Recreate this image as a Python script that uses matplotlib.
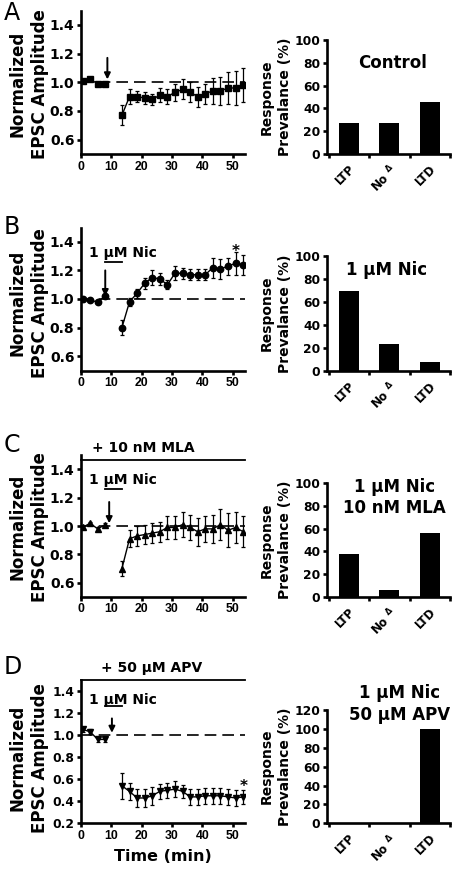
import matplotlib
matplotlib.use("Agg")
import matplotlib.pyplot as plt
import numpy as np

plt.rcParams['font.family'] = ['DejaVu Sans']
plt.rcParams['font.weight'] = 'bold'
plt.rcParams['mathtext.default'] = 'regular'

# ---------------- data ----------------
t_pre = [0.5, 3, 5.5, 8]
t_post = [13.5, 16, 18.5, 21, 23.5, 26, 28.5, 31, 33.5, 36, 38.5, 41, 43.5, 46, 48.5, 51, 53.5]

a_pre = [1.01, 1.02, 0.99, 0.99]
a_pre_err = [0.01, 0.01, 0.01, 0.01]
a_post = [0.77, 0.90, 0.90, 0.89, 0.88, 0.91, 0.90, 0.93, 0.95, 0.93, 0.90, 0.92, 0.94, 0.94, 0.96, 0.96, 0.98]
a_post_err = [0.07, 0.05, 0.04, 0.04, 0.04, 0.05, 0.05, 0.06, 0.07, 0.07, 0.07, 0.07, 0.09, 0.10, 0.11, 0.12, 0.12]

b_pre = [1.00, 0.99, 0.98, 1.02]
b_pre_err = [0.01, 0.01, 0.01, 0.01]
b_post = [0.80, 0.98, 1.04, 1.11, 1.15, 1.14, 1.10, 1.18, 1.18, 1.17, 1.17, 1.17, 1.22, 1.21, 1.23, 1.25, 1.24]
b_post_err = [0.05, 0.03, 0.03, 0.04, 0.05, 0.04, 0.03, 0.05, 0.04, 0.04, 0.04, 0.04, 0.07, 0.07, 0.06, 0.08, 0.07]

c_pre = [0.99, 1.02, 0.98, 1.01]
c_pre_err = [0.01, 0.01, 0.01, 0.01]
c_post = [0.70, 0.91, 0.93, 0.94, 0.95, 0.96, 0.99, 0.99, 1.01, 0.99, 0.96, 0.98, 0.98, 1.01, 0.97, 0.99, 0.96]
c_post_err = [0.05, 0.06, 0.07, 0.07, 0.07, 0.07, 0.08, 0.08, 0.09, 0.09, 0.10, 0.09, 0.10, 0.11, 0.12, 0.11, 0.11]

d_pre = [1.05, 1.03, 0.96, 0.96]
d_pre_err = [0.02, 0.02, 0.02, 0.02]
d_post = [0.54, 0.49, 0.43, 0.43, 0.45, 0.49, 0.50, 0.51, 0.49, 0.44, 0.44, 0.45, 0.45, 0.45, 0.44, 0.43, 0.44]
d_post_err = [0.12, 0.08, 0.08, 0.08, 0.08, 0.07, 0.07, 0.07, 0.06, 0.07, 0.07, 0.07, 0.07, 0.07, 0.07, 0.07, 0.06]

categories = ['LTP', 'No $^{\\Delta}$', 'LTD']
bar_a = [27.3, 27.3, 45.4]
bar_b = [69.2, 23.1, 7.7]
bar_c = [37.5, 6.25, 56.25]
bar_d = [0, 0, 100]

W, H = 454, 876
fig = plt.figure(figsize=(W / 100, H / 100), dpi=100)


def pos(left, top, right, bottom):
    return [left / W, (H - bottom) / H, (right - left) / W, (bottom - top) / H]


SP = 1.9


def style(ax, yfs):
    for s in ['top', 'right']:
        ax.spines[s].set_visible(False)
    for s in ['left', 'bottom']:
        ax.spines[s].set_linewidth(SP)
    ax.tick_params(direction='out', width=SP, length=3.2, pad=1.5)
    ax.tick_params(axis='y', labelsize=yfs)
    for lab in ax.get_xticklabels() + ax.get_yticklabels():
        lab.set_fontweight('bold')


def line_panel(ax, pre, pre_err, post, post_err, marker, ylim, yticks, arrow_t, arrow_from,
               label_y, yfs=10):
    ax.set_xlim(0, 54)
    ax.set_ylim(*ylim)
    ax.plot([0, 54], [1.0, 1.0], color='k', lw=1.2, dashes=(7, 3.6), zorder=1)
    ms = 4.6 if marker != 's' else 4.4
    for t, y, e in [(t_pre, pre, pre_err), (t_post, post, post_err)]:
        ax.errorbar(t, y, yerr=e, color='k', marker=marker, ms=ms, lw=1.0,
                    elinewidth=0.9, capsize=1.6, capthick=0.9, zorder=3)
    ax.set_xticks([0, 10, 20, 30, 40, 50])
    ax.set_xticklabels(['0', '10', '20', '30', '40', '50'])
    ax.set_yticks(yticks)
    ax.set_yticklabels([f'{v:.1f}' for v in yticks])
    # two-line y label drawn as two separate texts
    fig.text(18 / W, 1 - label_y / H, 'Normalized', rotation=90, fontsize=12,
             fontweight='bold', ha='center', va='center')
    fig.text(40.5 / W, 1 - label_y / H, 'EPSC Amplitude', rotation=90, fontsize=12,
             fontweight='bold', ha='center', va='center')
    ax.annotate('', xy=(arrow_t, 1.02), xytext=(arrow_t, arrow_from),
                arrowprops=dict(arrowstyle='-|>', lw=1.4, color='k', mutation_scale=9,
                                shrinkA=0, shrinkB=0))
    style(ax, yfs)
    for lab in ax.get_xticklabels():
        lab.set_family('Liberation Sans')
        lab.set_fontsize(8.8)


def nic_label(ax, ytext, yline):
    ax.text(2.8, ytext, '1 μM Nic', fontsize=10, fontweight='bold', ha='left', va='center')
    ax.plot([7.9, 13.5], [yline, yline], color='k', lw=1.3, clip_on=False)


def bar_panel(ax, vals, ylim, yticks):
    x = np.arange(len(categories))
    ax.bar(x, vals, width=0.5, color='k')
    ax.set_xlim(-0.55, 2.5)
    ax.set_ylim(*ylim)
    ax.set_yticks(yticks)
    ax.set_xticks([-0.5, 0.5, 1.5, 2.5])
    ax.set_xticklabels([])
    ax.set_xticks(x, minor=True)
    ax.set_xticklabels(categories, minor=True, rotation=45, ha='right',
                       rotation_mode='anchor', fontsize=8.5, fontweight='bold')
    ax.tick_params(axis='x', which='minor', length=0, pad=6)
    ax.set_ylabel('Response\nPrevalance (%)', fontsize=10, fontweight='bold',
                  linespacing=1.3, labelpad=2)
    style(ax, 8.8)
    for lab in ax.get_xticklabels(minor=True):
        lab.set_fontweight('bold')
        lab.set_fontsize(8.5)
    return ax


TFS = 12

# ---------------- A ----------------
axA = fig.add_axes(pos(81, 10.5, 244.7, 154))
line_panel(axA, a_pre, a_pre_err, a_post, a_post_err, 's', (0.5, 1.5),
           [0.6, 0.8, 1.0, 1.2, 1.4], 8.7, 1.17, 84)
bA = fig.add_axes(pos(326.7, 40, 450, 154))
bar_panel(bA, bar_a, (0, 100), [0, 20, 40, 60, 80, 100])
bA.text(1.09, 79.8, 'Control', fontsize=TFS, fontweight='bold', ha='center', va='center')

# ---------------- B ----------------
axB = fig.add_axes(pos(81, 227.5, 244.7, 370.5))
line_panel(axB, b_pre, b_pre_err, b_post, b_post_err, 'o', (0.5, 1.5),
           [0.6, 0.8, 1.0, 1.2, 1.4], 8.0, 1.20, 303)
nic_label(axB, 1.32, 1.26)
axB.text(t_post[15], 1.30, '*', fontsize=11, fontweight='bold', ha='center', va='baseline')
bB = fig.add_axes(pos(326.7, 256, 450, 370.7))
bar_panel(bB, bar_b, (0, 100), [0, 20, 40, 60, 80, 100])
bB.text(0.93, 87.8, '1 μM Nic', fontsize=TFS, fontweight='bold', ha='center', va='center')

# ---------------- C ----------------
axC = fig.add_axes(pos(81, 455.3, 244.7, 596.8))
line_panel(axC, c_pre, c_pre_err, c_post, c_post_err, '^', (0.5, 1.5),
           [0.6, 0.8, 1.0, 1.2, 1.4], 9.3, 1.17, 527)
nic_label(axC, 1.325, 1.26)
axC.plot([0, 54], [1.467, 1.467], color='k', lw=1.3, clip_on=False)
axC.text(3.5, 1.555, '+ 10 nM MLA', fontsize=10, fontweight='bold', ha='left', va='center')
bC = fig.add_axes(pos(326.7, 483.3, 450, 596.7))
bar_panel(bC, bar_c, (0, 100), [0, 20, 40, 60, 80, 100])
bC.text(1.12, 97, '1 μM Nic', fontsize=TFS, fontweight='bold', ha='center', va='center')
bC.text(1.12, 78, '10 nM MLA', fontsize=TFS, fontweight='bold', ha='center', va='center')

# ---------------- D ----------------
axD = fig.add_axes(pos(81, 679.75, 244.7, 823.4))
line_panel(axD, d_pre, d_pre_err, d_post, d_post_err, 'v', (0.2, 1.5),
           [0.2, 0.4, 0.6, 0.8, 1.0, 1.2, 1.4], 10.2, 1.15, 758, yfs=8.8)
nic_label(axD, 1.32, 1.26)
axD.plot([0, 54], [1.5, 1.5], color='k', lw=1.3, clip_on=False)
axD.text(6.6, 1.545, '+ 50 μM APV', fontsize=10, fontweight='bold', ha='left', va='bottom')
axD.text(t_post[16], 0.49, '*', fontsize=11, fontweight='bold', ha='center', va='baseline')
axD.set_xlabel('Time (min)', fontsize=11.5, fontweight='bold', labelpad=5)
bD = fig.add_axes(pos(326.7, 710, 450, 823.3))
bar_panel(bD, bar_d, (0, 120), [0, 20, 40, 60, 80, 100, 120])
bD.text(1.26, 137.9, '1 μM Nic', fontsize=TFS, fontweight='bold', ha='center', va='center', clip_on=False)
bD.text(1.26, 114.7, '50 μM APV', fontsize=TFS, fontweight='bold', ha='center', va='center', clip_on=False)

# ---------------- panel letters ----------------
for letter, y in [('A', 13.5), ('B', 227.5), ('C', 444.5), ('D', 666.5)]:
    fig.text(4 / W, 1 - y / H, letter, fontsize=17, fontweight='normal', ha='left', va='center')

fig.savefig('out.png', dpi=100)
